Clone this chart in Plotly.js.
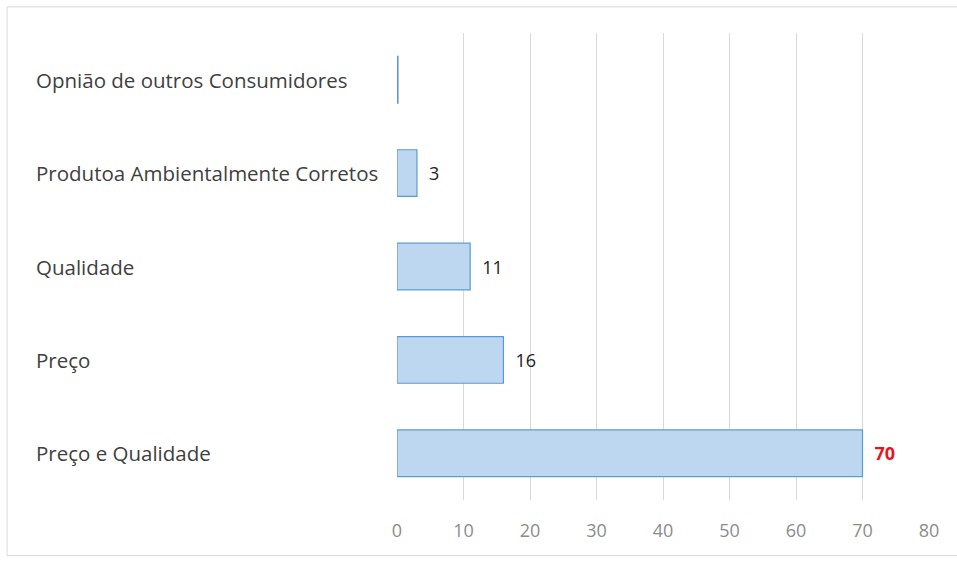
<!DOCTYPE html>
<html>
<head>
<meta charset="utf-8">
<script src="https://cdn.plot.ly/plotly-3.0.1.min.js"></script>
<style>html,body{margin:0;padding:0;background:#fff;}#chart{width:957px;height:563px;}</style>
</head>
<body>
<div id="chart"></div>
<script>
// Categories listed bottom to top
const categories = ['Preço e Qualidade', 'Preço', 'Qualidade', 'Produtoa Ambientalmente Corretos', 'Opnião de outros Consumidores'];
const values = [70, 16, 11, 3, 0.15];
const tickValues = [0, 10, 20, 30, 40, 50, 60, 70, 80];
const highlightCategory = 'Preço e Qualidade';

const labelText = values.map((v, i) => {
  if (v < 1) return '';
  const s = '\u2002' + String(v);
  return categories[i] === highlightCategory ? '<b>' + s + '</b>' : s;
});
const labelColors = categories.map(c => c === highlightCategory ? '#e8141c' : '#222222');

const trace = {
  type: 'bar',
  orientation: 'h',
  y: categories,
  x: values,
  width: 0.5,
  marker: { color: '#bed7f0', line: { color: '#5b9bd5', width: 1.2 } },
  text: labelText,
  textposition: 'outside',
  textfont: { family: 'Open Sans, sans-serif', size: 18, color: labelColors },
  cliponaxis: false,
  hoverinfo: 'none'
};

const annotations = categories.map(c => ({
  xref: 'paper', yref: 'y', x: -0.682, y: c,
  text: c, showarrow: false, xanchor: 'left', yanchor: 'middle',
  font: { family: 'Open Sans, sans-serif', size: 20.5, color: '#404040' }
}));

const layout = {
  width: 957, height: 563,
  margin: { l: 397, r: 28, t: 33, b: 63 },
  paper_bgcolor: '#ffffff', plot_bgcolor: '#ffffff',
  showlegend: false,
  bargap: 0.5,
  xaxis: {
    range: [0, 80], tickvals: tickValues, ticktext: tickValues.map(String),
    showgrid: true, gridcolor: '#d9d9d9', gridwidth: 1,
    zeroline: false, showline: false, ticks: '',
    tickfont: { family: 'Open Sans, sans-serif', size: 18, color: '#8c8c8c' },
    ticklabelstandoff: 18, fixedrange: true
  },
  yaxis: {
    type: 'category', range: [-0.5, 4.5], showticklabels: false,
    showgrid: false, zeroline: false, showline: false, ticks: '', fixedrange: true
  },
  annotations: annotations,
  shapes: [{
    type: 'rect', xref: 'paper', yref: 'paper',
    x0: -0.733, x1: 1.2, y0: -0.119, y1: 1.056,
    line: { color: '#d9d9d9', width: 1 }, fillcolor: 'rgba(0,0,0,0)', layer: 'below'
  }]
};

Plotly.newPlot('chart', [trace], layout, { displayModeBar: false, staticPlot: true });
</script>
</body>
</html>
